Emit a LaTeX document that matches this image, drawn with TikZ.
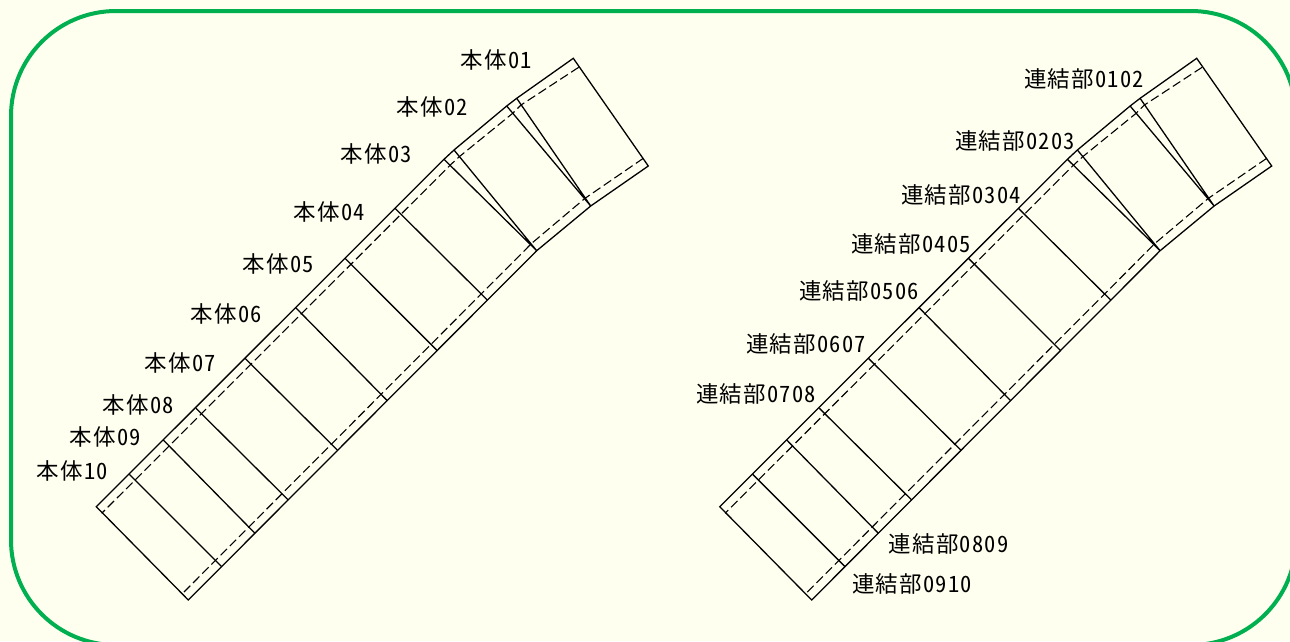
\documentclass[tikz,border=0pt]{standalone}
\usepackage{fontspec}
\newfontfamily\cjk[RawFeature={+hwid},LetterSpace=5.5]{Noto Sans CJK JP}
\definecolor{paper}{HTML}{FFFFF0}
\definecolor{frameg}{HTML}{00B050}
\tikzset{
  frameline/.style={draw=frameg,line width=4pt,rounded corners=105pt},
  solidline/.style={draw=black,line width=1.3pt,line join=miter},
  dashline/.style={draw=black,line width=1.1pt,dash pattern=on 9pt off 4pt},
  lbl/.style={inner sep=0pt,font=\cjk\fontsize{22.5}{24}\selectfont,text=black}
}
\newcommand{\segmentshape}{%
  \coordinate (t1) at (573.3,58.3);
  \coordinate (t2) at (516.7,98.3);
  \coordinate (t3) at (506.7,106);
  \coordinate (t4) at (454,150);
  \coordinate (t5) at (444,159.3);
  \coordinate (t6) at (395,208.3);
  \coordinate (t7) at (345,258.3);
  \coordinate (t8) at (295.7,307.7);
  \coordinate (t9) at (245,358.3);
  \coordinate (t10) at (196,408.3);
  \coordinate (t11) at (163.3,440);
  \coordinate (t12) at (129.3,474.3);
  \coordinate (t13) at (96.3,506.7);
  \coordinate (b1) at (648.3,166);
  \coordinate (b2) at (590.7,206);
  \coordinate (b3) at (536.7,250.7);
  \coordinate (b4) at (487.3,300);
  \coordinate (b5) at (437.3,350.7);
  \coordinate (b6) at (387.3,400.7);
  \coordinate (b7) at (337.3,450);
  \coordinate (b8) at (288.3,500);
  \coordinate (b9) at (255,533.3);
  \coordinate (b10) at (221.7,566.7);
  \coordinate (b11) at (188.3,600);
  \draw[solidline] (t1) -- (t2) -- (t3) -- (t4) -- (t5) -- (t13) -- (b11) -- (b3) -- (b2) -- (b1) -- cycle;
  \draw[solidline] (t2) -- (b2) (t3) -- (b2) (t4) -- (b3) (t5) -- (b3)
    (t6) -- (b4) (t7) -- (b5) (t8) -- (b6) (t9) -- (b7) (t10) -- (b8) (t11) -- (b9) (t12) -- (b10);
  \draw[dashline] (578.7,67.3) -- (521,105) -- (512.7,113.3) -- (459.3,156.7) -- (450.3,165) -- (101.7,513.3);
  \draw[dashline] (643.3,158.3) -- (585,198.3) -- (531.7,243.3) -- (182.7,593.3);
}
\begin{document}
\begin{tikzpicture}[x=1pt,y=-1pt]
  \useasboundingbox (0,0) rectangle (1290,641);
  \fill[paper] (0,0) rectangle (1290,641);
  \begin{scope}
    \clip (0,0) rectangle (1290,641);
    \draw[frameline] (11,11) rectangle (1296,645);
  \end{scope}
  \begin{scope}
    \segmentshape
  \end{scope}
  \begin{scope}[shift={(623.4,0)}]
    \segmentshape
  \end{scope}
  \node[lbl] (h01) at (496.5,60) {本体01};
  \node[lbl] (h02) at (432.5,107) {本体02};
  \node[lbl] (h03) at (376.5,154) {本体03};
  \node[lbl] (h04) at (329.5,212) {本体04};
  \node[lbl] (h05) at (278.5,264) {本体05};
  \node[lbl] (h06) at (226.5,314) {本体06};
  \node[lbl] (h07) at (180.5,363) {本体07};
  \node[lbl] (h08) at (138.5,405) {本体08};
  \node[lbl] (h09) at (105.5,437) {本体09};
  \node[lbl] (h10) at (72.5,471) {本体10};
  \node[lbl] (c12) at (1084,79) {連結部0102};
  \node[lbl] (c23) at (1015,141) {連結部0203};
  \node[lbl] (c34) at (961,195) {連結部0304};
  \node[lbl] (c45) at (911,244) {連結部0405};
  \node[lbl] (c56) at (859,291) {連結部0506};
  \node[lbl] (c67) at (806,344) {連結部0607};
  \node[lbl] (c78) at (756,394) {連結部0708};
  \node[lbl] (c89) at (948.5,544) {連結部0809};
  \node[lbl] (c910) at (912,584) {連結部0910};
\end{tikzpicture}
\end{document}
